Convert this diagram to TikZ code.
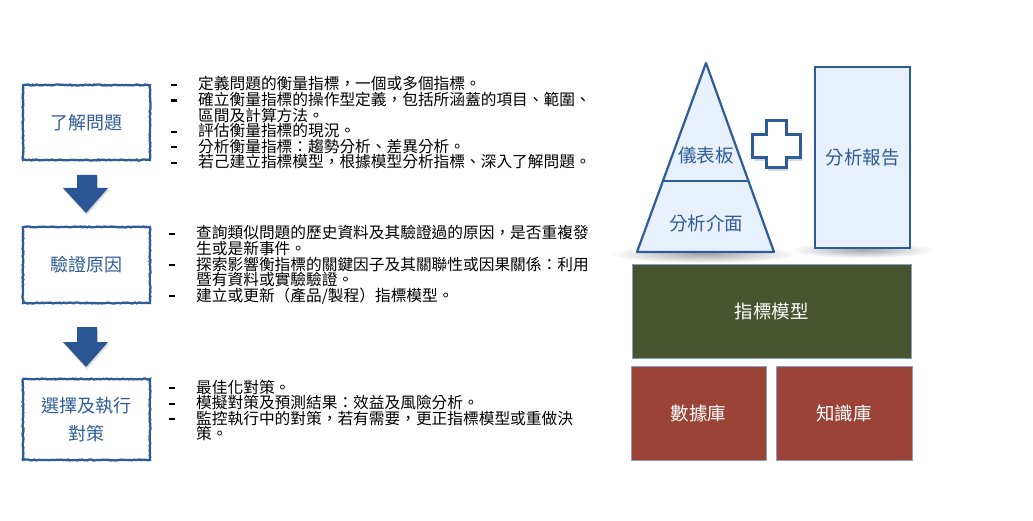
\documentclass[tikz,border=0pt]{standalone}
\usepackage{fontspec}
\usetikzlibrary{decorations.pathmorphing,shadows}
\setmainfont{Noto Sans CJK TC}
\newfontfamily\cjk{Noto Sans CJK TC}
\definecolor{sketchblue}{HTML}{2E5C98}
\definecolor{lightfill}{HTML}{E8F0FB}
\definecolor{olivefill}{HTML}{47542F}
\definecolor{brickfill}{HTML}{9C4337}
\definecolor{edgegray}{HTML}{8E9EC2}
\definecolor{arrowblue}{HTML}{2A5694}
\newcommand{\bl}{\makebox[30pt][l]{\hspace{3pt}\rule[4pt]{5.5pt}{2.1pt}}}
\newcommand{\cl}{\hspace*{30pt}}
\tikzset{
  stepbox/.style={draw=sketchblue, line width=2.3pt, minimum width=127pt,
    decorate, decoration={random steps,segment length=1.6pt,amplitude=0.5pt},
    font=\cjk\fontsize{18}{28}\selectfont, text=sketchblue, align=center, inner sep=0pt},
  bodytext/.style={anchor=base west, inner sep=0pt, font=\cjk\fontsize{15.7}{15.6}\selectfont},
  downarrow/.style={fill=arrowblue, drop shadow={shadow xshift=1pt, shadow yshift=-2pt, opacity=0.3}},
  bluelabel/.style={font=\cjk\fontsize{18.5}{22}\selectfont, text=sketchblue, inner sep=0pt},
  blockbox/.style={draw=edgegray, line width=0.8pt, text=white,
    font=\cjk\fontsize{18.5}{22}\selectfont, minimum height=94pt},
}
\begin{document}
\begin{tikzpicture}[x=1pt,y=-1pt]
\useasboundingbox (0,0) rectangle (1033,521);

% soft shadows (drawn first, under everything)
\shade[inner color=black!35, outer color=white] (704,254) ellipse (95 and 9);
\shade[inner color=black!35, outer color=white] (862,250) ellipse (72 and 8);

% left boxes
\node[stepbox, minimum height=75pt] (understand) at (86.5,122.5) {了解問題};
\node[stepbox, minimum height=76pt] (verify) at (86.5,265) {驗證原因};
\node[stepbox, minimum height=81pt] (act) at (86.5,419.5) {選擇及執行\\對策};

% arrows
\fill[downarrow] (77,175) -- (97,175) -- (97,188) -- (108,188) -- (86,213) -- (63,188) -- (77,188) -- cycle;
\fill[downarrow] (77,327) -- (97,327) -- (97,342) -- (108,342) -- (86,367) -- (63,342) -- (77,342) -- cycle;

% body texts
\node[bodytext] (t1) at (168,90) {\parbox[t]{460pt}{\raggedright
\bl 定義問題的衡量指標，一個或多個指標。\\
\bl 確立衡量指標的操作型定義，包括所涵蓋的項目、範圍、\\
\cl 區間及計算方法。\\
\bl 評估衡量指標的現況。\\
\bl 分析衡量指標：趨勢分析、差異分析。\\
\bl 若己建立指標模型，根據模型分析指標、深入了解問題。}};

\node[bodytext] (t2) at (166,239) {\parbox[t]{460pt}{\raggedright
\bl 查詢類似問題的歷史資料及其驗證過的原因，是否重複發\\
\cl 生或是新事件。\\
\bl 探索影響衡指標的關鍵因子及其關聯性或因果關係：利用\\
\cl 暨有資料或實驗驗證。\\
\bl 建立或更新（產品/製程）指標模型。}};

\node[bodytext] (t3) at (166,393) {\parbox[t]{460pt}{\raggedright
\bl 最佳化對策。\\
\bl 模擬對策及預測結果：效益及風險分析。\\
\bl 監控執行中的對策，若有需要，更正指標模型或重做決\\
\cl 策。}};

% pyramid
\filldraw[fill=lightfill, draw=sketchblue, line width=2.2pt, line join=round]
  (706,63) -- (774,252) -- (637,252) -- cycle;
\draw[sketchblue, line width=2.2pt] (662,181) -- (749,181);
\node[bluelabel] (dash) at (706,155) {儀表板};
\node[bluelabel] (iface) at (706,223) {分析介面};

% plus
\filldraw[fill=white, draw=sketchblue, line width=3pt, line join=miter,
  drop shadow={shadow xshift=2pt, shadow yshift=-3pt, opacity=0.3}]
  (766,121) -- (786,121) -- (786,135) -- (800,135) -- (800,158) -- (786,158)
  -- (786,168) -- (766,168) -- (766,158) -- (752,158) -- (752,135) -- (766,135) -- cycle;

% report
\node[draw=sketchblue, fill=lightfill, line width=2.6pt, minimum width=95pt,
  minimum height=181pt, bluelabel] (report) at (862.5,157.5) {分析報告};

% model & bases
\node[blockbox, fill=olivefill, minimum width=279pt] (model) at (771.5,311) {指標模型};
\node[blockbox, fill=brickfill, minimum width=135pt] (data) at (698.5,413) {數據庫};
\node[blockbox, fill=brickfill, minimum width=136pt] (know) at (844,413) {知識庫};
\end{tikzpicture}
\end{document}
